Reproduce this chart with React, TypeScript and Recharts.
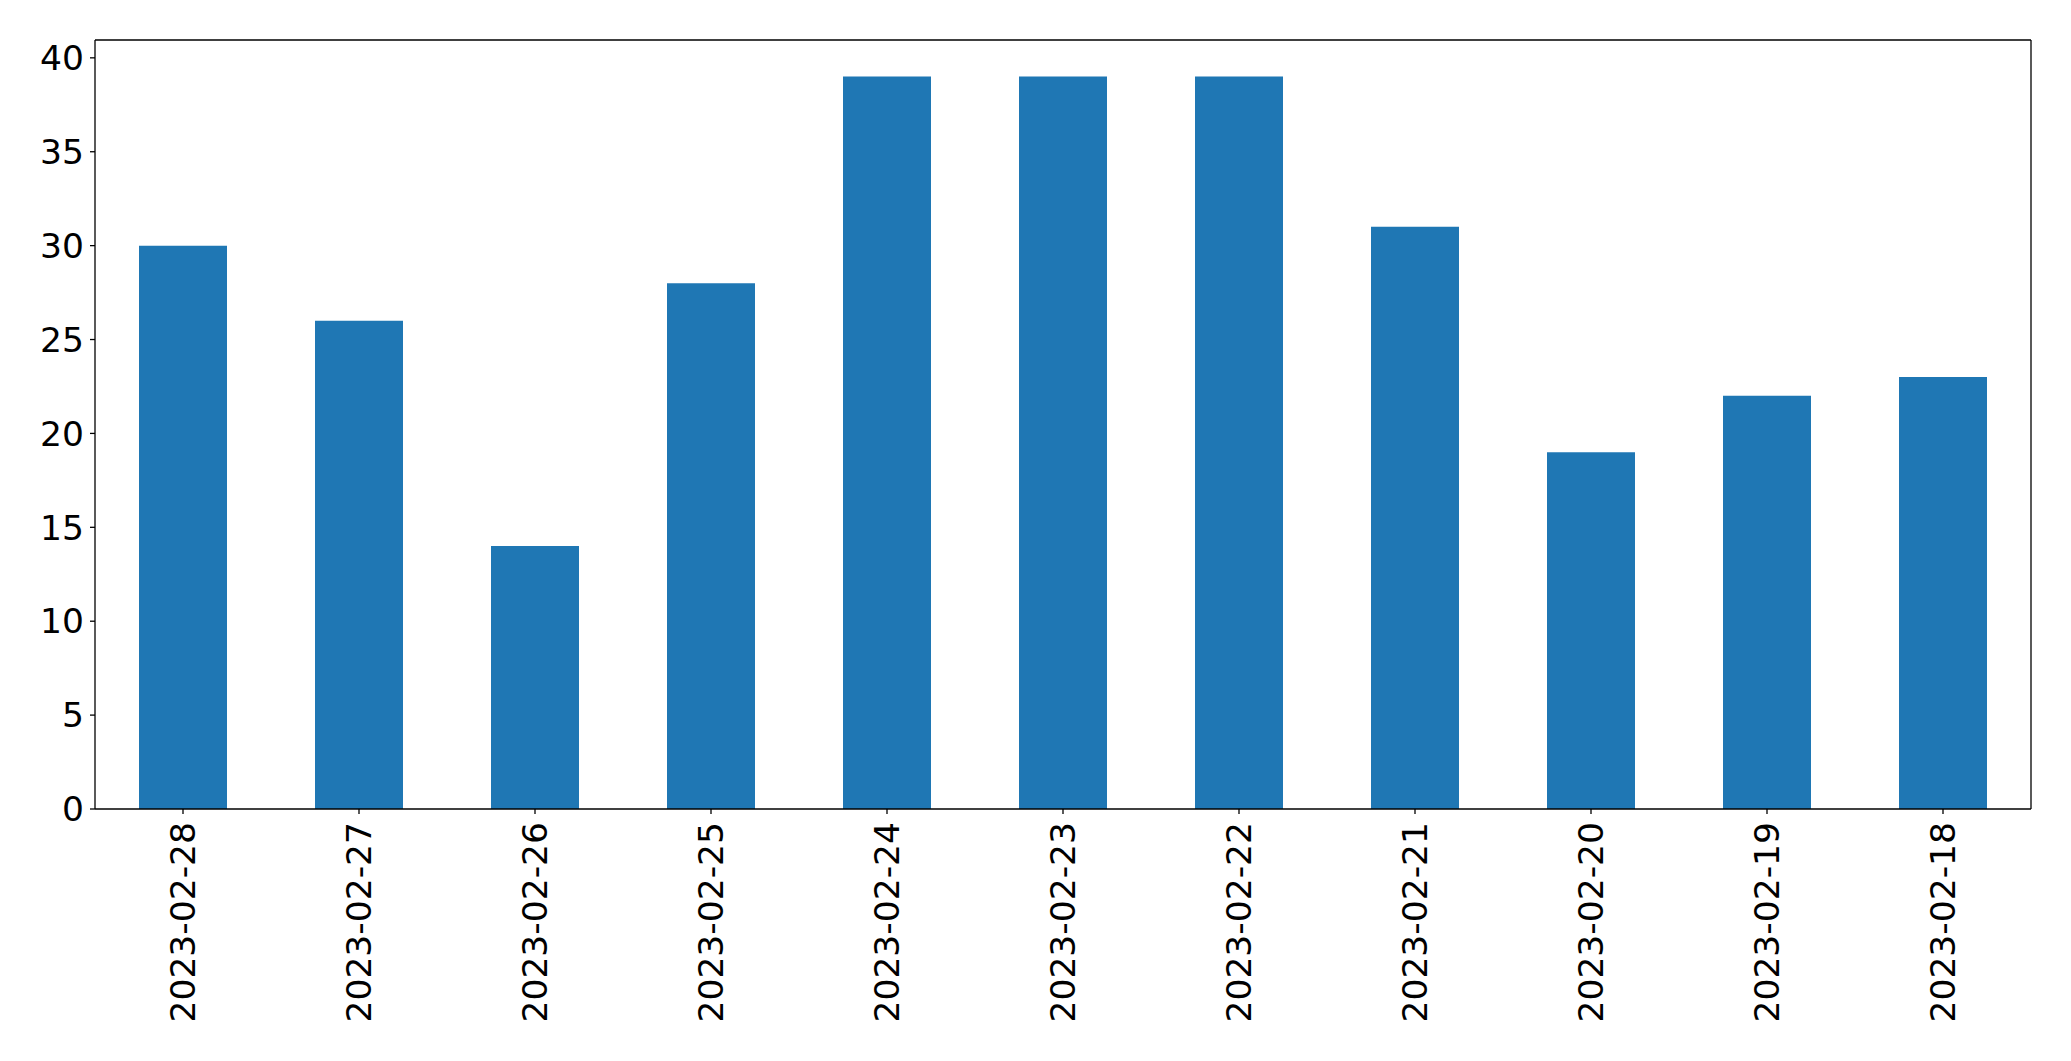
import React from 'react'
import { BarChart, Bar, XAxis, YAxis } from 'recharts'

const dates = [
  '2023-02-28', '2023-02-27', '2023-02-26', '2023-02-25', '2023-02-24', '2023-02-23',
  '2023-02-22', '2023-02-21', '2023-02-20', '2023-02-19', '2023-02-18',
]
const counts = [30, 26, 14, 28, 39, 39, 39, 31, 19, 22, 23]
const yTicks = [0, 5, 10, 15, 20, 25, 30, 35, 40]

const data = dates.map((d, i) => ({ date: d, count: counts[i] }))

const FONT = '"DejaVu Sans", sans-serif'

function RotatedTick(props: any) {
  const { x, y, payload } = props
  return (
    <g transform={`translate(${x},${y})`}>
      <text
        transform="rotate(-90)"
        textAnchor="end"
        dy="0.36em"
        fill="#000"
        fontSize={34.5}
        fontFamily={FONT}
      >
        {payload.value}
      </text>
    </g>
  )
}

export default function App() {
  return (
    <div style={{ position: 'absolute', left: 0, top: 0, width: 2071, height: 1061, background: '#fff' }}>
      <BarChart
        width={2071}
        height={1061}
        data={data}
        margin={{ top: 39, right: 39, left: 0, bottom: 0 }}
        barCategoryGap="25%"
      >
        <XAxis
          dataKey="date"
          xAxisId="main"
          height={252}
          interval={0}
          tickSize={5}
          tickMargin={8}
          tick={<RotatedTick />}
          axisLine={{ stroke: '#000', strokeWidth: 1.3 }}
          tickLine={{ stroke: '#000', strokeWidth: 1.3 }}
        />
        <XAxis
          dataKey="date"
          xAxisId="top"
          orientation="top"
          height={1}
          tick={false}
          tickLine={false}
          axisLine={{ stroke: '#000', strokeWidth: 1.3 }}
        />
        <YAxis
          yAxisId="main"
          width={95}
          domain={[0, 40.95]}
          ticks={yTicks}
          allowDataOverflow
          tickSize={5}
          tickMargin={6}
          tick={{ fill: '#000', fontSize: 34.5, fontFamily: FONT }}
          axisLine={{ stroke: '#000', strokeWidth: 1.3 }}
          tickLine={{ stroke: '#000', strokeWidth: 1.3 }}
        />
        <YAxis
          yAxisId="right"
          orientation="right"
          width={1}
          domain={[0, 40.95]}
          tick={false}
          tickLine={false}
          axisLine={{ stroke: '#000', strokeWidth: 1.3 }}
        />
        <Bar dataKey="count" xAxisId="main" yAxisId="main" fill="#1f77b4" isAnimationActive={false} />
      </BarChart>
    </div>
  )
}
